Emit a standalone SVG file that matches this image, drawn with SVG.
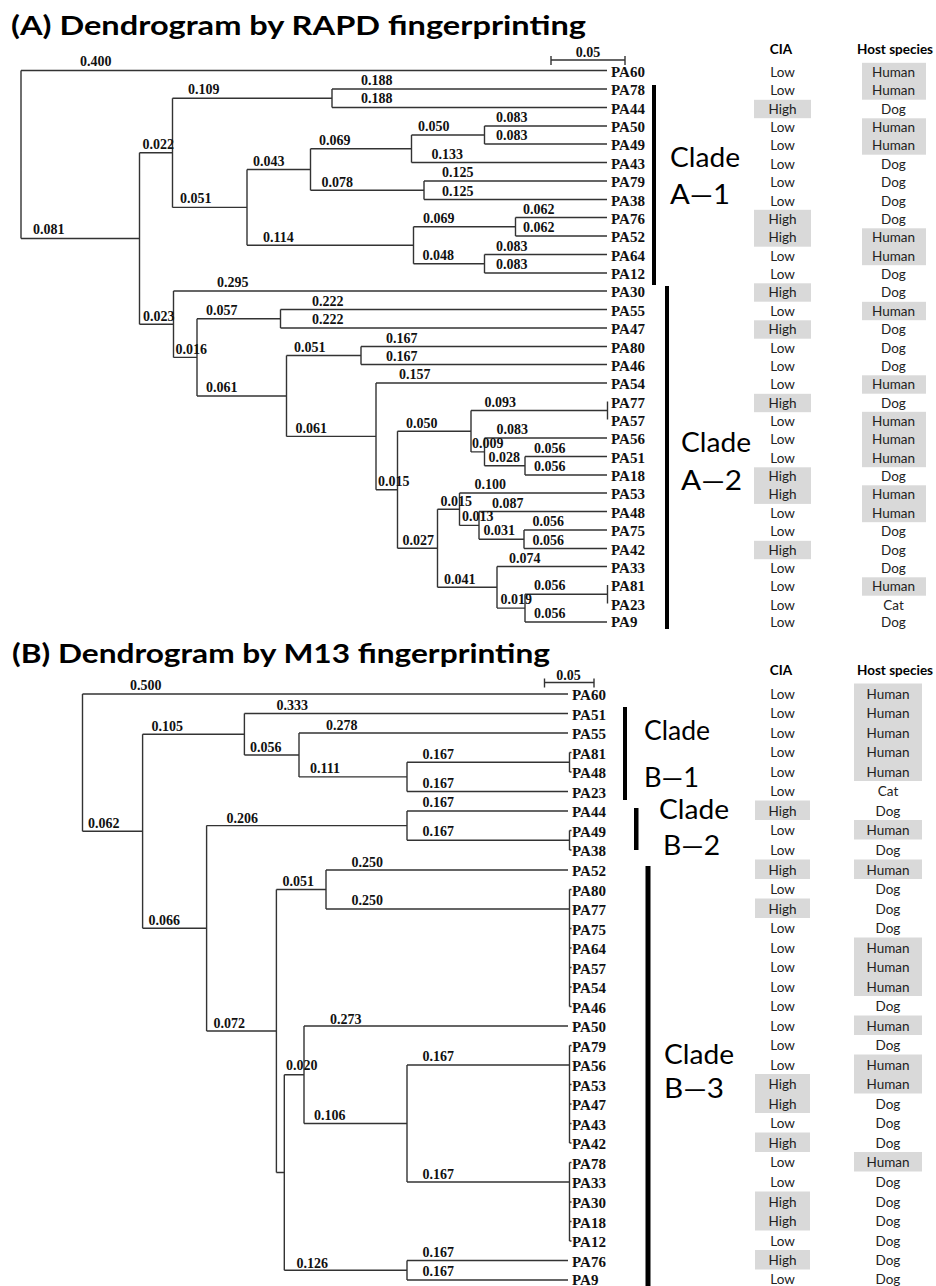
<svg xmlns="http://www.w3.org/2000/svg" width="936" height="1286" viewBox="0 0 936 1286">
<style>
.ln{fill:none;stroke:#333;stroke-width:1.4}
.bl{font-family:"Liberation Serif","Times New Roman",serif;font-weight:bold;font-size:14px;fill:#111}
.lf{font-family:"Liberation Serif","Times New Roman",serif;font-weight:bold;font-size:15px;fill:#111}
.ti{font-family:Lato,"Open Sans","Liberation Sans",sans-serif;font-weight:bold;font-size:27px;fill:#000}
.cl{font-family:Lato,"Open Sans","Liberation Sans",sans-serif;font-size:27px;fill:#000}
.hd{font-family:Lato,"Open Sans","Liberation Sans",sans-serif;font-weight:bold;font-size:13.5px;text-anchor:middle;fill:#000}
.tv{font-family:Lato,"Open Sans","Liberation Sans",sans-serif;font-size:13.5px;text-anchor:middle;fill:#222}
.hl{fill:#d9d9d9}
.bar{fill:#000}
</style>
<rect width="936" height="1286" fill="#fff"/>

<!-- ===== PART A ===== -->
<text class="ti" x="11" y="35" textLength="575" lengthAdjust="spacingAndGlyphs">(A) Dendrogram by RAPD fingerprinting</text>

<g id="A-scale">
<path class="ln" d="M551,60 H625 M551,56 V65 M625,56 V65"/>
<text class="bl" x="588" y="57" text-anchor="middle">0.05</text>
</g>

<g id="A-connectors">
<path class="ln" d="
M21,70.5 V238.5 M21,70.5 H607 M21,238.5 H139.5
M139.5,152.8 V324.2 M139.5,152.8 H172.5 M139.5,324.2 H173.5
M172.5,98.25 V207.4 M172.5,98.25 H332 M172.5,207.4 H247
M332,89 V107.5 M332,89 H607 M332,107.5 H607
M247,169.5 V245.25 M247,169.5 H310.5 M247,245.25 H413.5
M310.5,148.75 V190.25 M310.5,148.75 H411.5 M310.5,190.25 H424
M411.5,135 V162.5 M411.5,135 H484.5 M411.5,162.5 H607
M484.5,126 V144 M484.5,126 H607 M484.5,144 H607
M424,181 V199.5 M424,181 H607 M424,199.5 H607
M413.5,226.75 V263.75 M413.5,226.75 H515.5 M413.5,263.75 H484.5
M515.5,217.5 V236 M515.5,217.5 H607 M515.5,236 H607
M484.5,254.5 V273 M484.5,254.5 H607 M484.5,273 H607
M173.5,291 V357.4 M173.5,291 H607 M173.5,357.4 H197
M197,318.75 V396 M197,318.75 H280.5 M197,396 H286.5
M280.5,309.5 V328 M280.5,309.5 H607 M280.5,328 H607
M286.5,355.5 V436.4 M286.5,355.5 H361 M286.5,436.4 H376
M361,346.5 V364.5 M361,346.5 H607 M361,364.5 H607
M376,383 V489.7 M376,383 H607 M376,489.7 H397.5
M397.5,431.2 V548.25 M397.5,431.2 H471 M397.5,548.25 H437.5
M471,410.5 V451.9 M471,410.5 H607.5 M471,451.9 H484.5
M607.5,401.5 V419.5
M484.5,438 V465.75 M484.5,438 H607 M484.5,465.75 H525
M525,456.5 V475 M525,456.5 H607 M525,475 H607
M437.5,509.2 V587.3 M437.5,509.2 H459.5 M437.5,587.3 H497
M459.5,493 V525.4 M459.5,493 H607 M459.5,525.4 H479
M479,511.5 V539.25 M479,511.5 H607 M479,539.25 H524
M524,530 V548.5 M524,530 H607 M524,548.5 H607
M497,566.5 V608.1 M497,566.5 H607 M497,608.1 H525
M525,594.25 V622 M525,594.25 H607.5 M525,622 H607
M607.5,585 V603.5"/>
</g>

<g id="A-branch-labels">
<text class="bl" x="80" y="66">0.400</text>
<text class="bl" x="33" y="234">0.081</text>
<text class="bl" x="142.5" y="149">0.022</text>
<text class="bl" x="188" y="94">0.109</text>
<text class="bl" x="361" y="85">0.188</text>
<text class="bl" x="361" y="103">0.188</text>
<text class="bl" x="180" y="203">0.051</text>
<text class="bl" x="253" y="165.5">0.043</text>
<text class="bl" x="319" y="145">0.069</text>
<text class="bl" x="418" y="131">0.050</text>
<text class="bl" x="496" y="122">0.083</text>
<text class="bl" x="496" y="140">0.083</text>
<text class="bl" x="431.5" y="158.5">0.133</text>
<text class="bl" x="321.5" y="186.5">0.078</text>
<text class="bl" x="442" y="177">0.125</text>
<text class="bl" x="442" y="195.5">0.125</text>
<text class="bl" x="263" y="241.5">0.114</text>
<text class="bl" x="423" y="223">0.069</text>
<text class="bl" x="523" y="213.5">0.062</text>
<text class="bl" x="523" y="232">0.062</text>
<text class="bl" x="422.5" y="260">0.048</text>
<text class="bl" x="496" y="250.5">0.083</text>
<text class="bl" x="496" y="269">0.083</text>
<text class="bl" x="143" y="320.5">0.023</text>
<text class="bl" x="217" y="287">0.295</text>
<text class="bl" x="175.5" y="354">0.016</text>
<text class="bl" x="206" y="315">0.057</text>
<text class="bl" x="312" y="305.5">0.222</text>
<text class="bl" x="312" y="324">0.222</text>
<text class="bl" x="206" y="392">0.061</text>
<text class="bl" x="294" y="351.5">0.051</text>
<text class="bl" x="386" y="342.5">0.167</text>
<text class="bl" x="386" y="360.5">0.167</text>
<text class="bl" x="295.5" y="432.5">0.061</text>
<text class="bl" x="399" y="379">0.157</text>
<text class="bl" x="378" y="486">0.015</text>
<text class="bl" x="406" y="427.5">0.050</text>
<text class="bl" x="484.5" y="406.5">0.093</text>
<text class="bl" x="472" y="448">0.009</text>
<text class="bl" x="496.5" y="434">0.083</text>
<text class="bl" x="488.5" y="462">0.028</text>
<text class="bl" x="534" y="452.5">0.056</text>
<text class="bl" x="534" y="471">0.056</text>
<text class="bl" x="402.5" y="544.5">0.027</text>
<text class="bl" x="440.5" y="505.5">0.015</text>
<text class="bl" x="474.5" y="489">0.100</text>
<text class="bl" x="462" y="521">0.013</text>
<text class="bl" x="492" y="507.5">0.087</text>
<text class="bl" x="483.5" y="535">0.031</text>
<text class="bl" x="532.5" y="526">0.056</text>
<text class="bl" x="532.5" y="544.5">0.056</text>
<text class="bl" x="444" y="583.5">0.041</text>
<text class="bl" x="509" y="562.5">0.074</text>
<text class="bl" x="500.5" y="604">0.019</text>
<text class="bl" x="534" y="590">0.056</text>
<text class="bl" x="534" y="618">0.056</text>
</g>

<g id="A-clades">
<rect class="bar" x="652" y="85" width="4" height="200"/>
<rect class="bar" x="665" y="286" width="4" height="343"/>
<text class="cl" x="670" y="166.5" textLength="70" lengthAdjust="spacingAndGlyphs">Clade</text>
<text class="cl" x="670" y="203.5" textLength="60" lengthAdjust="spacingAndGlyphs">A—1</text>
<text class="cl" x="681" y="451.5" textLength="70" lengthAdjust="spacingAndGlyphs">Clade</text>
<text class="cl" x="681" y="490" textLength="61" lengthAdjust="spacingAndGlyphs">A—2</text>
</g>

<g id="A-table-shading">
<rect class="hl" x="754" y="99.8" width="57" height="18.4"/>
<rect class="hl" x="754" y="209.8" width="57" height="36.9"/>
<rect class="hl" x="754" y="283.3" width="57" height="18.4"/>
<rect class="hl" x="754" y="320.3" width="57" height="18.4"/>
<rect class="hl" x="754" y="393.8" width="57" height="18.4"/>
<rect class="hl" x="754" y="467.3" width="57" height="36.6"/>
<rect class="hl" x="754" y="540.8" width="57" height="18.4"/>
<rect class="hl" x="862" y="62.8" width="64" height="36.9"/>
<rect class="hl" x="862" y="118.3" width="64" height="36.4"/>
<rect class="hl" x="862" y="228.3" width="64" height="36.9"/>
<rect class="hl" x="862" y="301.8" width="64" height="18.4"/>
<rect class="hl" x="862" y="375.3" width="64" height="18.4"/>
<rect class="hl" x="862" y="411.8" width="64" height="55.4"/>
<rect class="hl" x="862" y="485.3" width="64" height="36.9"/>
<rect class="hl" x="862" y="577.3" width="64" height="18.4"/>
</g>
<g id="A-table-header">
<text class="hd" x="781" y="54">CIA</text>
<text class="hd" x="895" y="54">Host species</text>
</g>

<g id="A-PA60"><text class="lf" x="611" y="76.5">PA60</text><text class="tv" x="782.5" y="76.5">Low</text><text class="tv" x="893.5" y="76.5">Human</text></g>
<g id="A-PA78"><text class="lf" x="611" y="95">PA78</text><text class="tv" x="782.5" y="95">Low</text><text class="tv" x="893.5" y="95">Human</text></g>
<g id="A-PA44"><text class="lf" x="611" y="113.5">PA44</text><text class="tv" x="782.5" y="113.5">High</text><text class="tv" x="893.5" y="113.5">Dog</text></g>
<g id="A-PA50"><text class="lf" x="611" y="132">PA50</text><text class="tv" x="782.5" y="132">Low</text><text class="tv" x="893.5" y="132">Human</text></g>
<g id="A-PA49"><text class="lf" x="611" y="150">PA49</text><text class="tv" x="782.5" y="150">Low</text><text class="tv" x="893.5" y="150">Human</text></g>
<g id="A-PA43"><text class="lf" x="611" y="168.5">PA43</text><text class="tv" x="782.5" y="168.5">Low</text><text class="tv" x="893.5" y="168.5">Dog</text></g>
<g id="A-PA79"><text class="lf" x="611" y="187">PA79</text><text class="tv" x="782.5" y="187">Low</text><text class="tv" x="893.5" y="187">Dog</text></g>
<g id="A-PA38"><text class="lf" x="611" y="205.5">PA38</text><text class="tv" x="782.5" y="205.5">Low</text><text class="tv" x="893.5" y="205.5">Dog</text></g>
<g id="A-PA76"><text class="lf" x="611" y="223.5">PA76</text><text class="tv" x="782.5" y="223.5">High</text><text class="tv" x="893.5" y="223.5">Dog</text></g>
<g id="A-PA52"><text class="lf" x="611" y="242">PA52</text><text class="tv" x="782.5" y="242">High</text><text class="tv" x="893.5" y="242">Human</text></g>
<g id="A-PA64"><text class="lf" x="611" y="260.5">PA64</text><text class="tv" x="782.5" y="260.5">Low</text><text class="tv" x="893.5" y="260.5">Human</text></g>
<g id="A-PA12"><text class="lf" x="611" y="279">PA12</text><text class="tv" x="782.5" y="279">Low</text><text class="tv" x="893.5" y="279">Dog</text></g>
<g id="A-PA30"><text class="lf" x="611" y="297">PA30</text><text class="tv" x="782.5" y="297">High</text><text class="tv" x="893.5" y="297">Dog</text></g>
<g id="A-PA55"><text class="lf" x="611" y="315.5">PA55</text><text class="tv" x="782.5" y="315.5">Low</text><text class="tv" x="893.5" y="315.5">Human</text></g>
<g id="A-PA47"><text class="lf" x="611" y="334">PA47</text><text class="tv" x="782.5" y="334">High</text><text class="tv" x="893.5" y="334">Dog</text></g>
<g id="A-PA80"><text class="lf" x="611" y="352.5">PA80</text><text class="tv" x="782.5" y="352.5">Low</text><text class="tv" x="893.5" y="352.5">Dog</text></g>
<g id="A-PA46"><text class="lf" x="611" y="370.5">PA46</text><text class="tv" x="782.5" y="370.5">Low</text><text class="tv" x="893.5" y="370.5">Dog</text></g>
<g id="A-PA54"><text class="lf" x="611" y="389">PA54</text><text class="tv" x="782.5" y="389">Low</text><text class="tv" x="893.5" y="389">Human</text></g>
<g id="A-PA77"><text class="lf" x="611" y="407.5">PA77</text><text class="tv" x="782.5" y="407.5">High</text><text class="tv" x="893.5" y="407.5">Dog</text></g>
<g id="A-PA57"><text class="lf" x="611" y="425.5">PA57</text><text class="tv" x="782.5" y="425.5">Low</text><text class="tv" x="893.5" y="425.5">Human</text></g>
<g id="A-PA56"><text class="lf" x="611" y="444">PA56</text><text class="tv" x="782.5" y="444">Low</text><text class="tv" x="893.5" y="444">Human</text></g>
<g id="A-PA51"><text class="lf" x="611" y="462.5">PA51</text><text class="tv" x="782.5" y="462.5">Low</text><text class="tv" x="893.5" y="462.5">Human</text></g>
<g id="A-PA18"><text class="lf" x="611" y="481">PA18</text><text class="tv" x="782.5" y="481">High</text><text class="tv" x="893.5" y="481">Dog</text></g>
<g id="A-PA53"><text class="lf" x="611" y="499">PA53</text><text class="tv" x="782.5" y="499">High</text><text class="tv" x="893.5" y="499">Human</text></g>
<g id="A-PA48"><text class="lf" x="611" y="517.5">PA48</text><text class="tv" x="782.5" y="517.5">Low</text><text class="tv" x="893.5" y="517.5">Human</text></g>
<g id="A-PA75"><text class="lf" x="611" y="536">PA75</text><text class="tv" x="782.5" y="536">Low</text><text class="tv" x="893.5" y="536">Dog</text></g>
<g id="A-PA42"><text class="lf" x="611" y="554.5">PA42</text><text class="tv" x="782.5" y="554.5">High</text><text class="tv" x="893.5" y="554.5">Dog</text></g>
<g id="A-PA33"><text class="lf" x="611" y="572.5">PA33</text><text class="tv" x="782.5" y="572.5">Low</text><text class="tv" x="893.5" y="572.5">Dog</text></g>
<g id="A-PA81"><text class="lf" x="611" y="591">PA81</text><text class="tv" x="782.5" y="591">Low</text><text class="tv" x="893.5" y="591">Human</text></g>
<g id="A-PA23"><text class="lf" x="611" y="609.5">PA23</text><text class="tv" x="782.5" y="609.5">Low</text><text class="tv" x="893.5" y="609.5">Cat</text></g>
<g id="A-PA9"><text class="lf" x="611" y="627">PA9</text><text class="tv" x="782.5" y="627">Low</text><text class="tv" x="893.5" y="627">Dog</text></g>

<!-- ===== PART B ===== -->
<text class="ti" x="12" y="663" textLength="538" lengthAdjust="spacingAndGlyphs">(B) Dendrogram by M13 fingerprinting</text>

<g id="B-scale">
<path class="ln" d="M544.5,682.5 H594 M544.5,678.5 V687.5 M594,678.5 V687.5"/>
<text class="bl" x="568.5" y="679.5" text-anchor="middle">0.05</text>
</g>

<g id="B-connectors">
<path class="ln" d="
M82.5,694 V831.25 M82.5,694 H568 M82.5,831.25 H142.6
M142.6,734.2 V928.3 M142.6,734.2 H244.4 M142.6,928.3 H206.6
M244.4,713.5 V754.95 M244.4,713.5 H568 M244.4,754.95 H299
M299,733 V776.9 M299,733 H568 M299,776.9 H407
M407,762.25 V791.5 M407,762.25 H569.5 M407,791.5 H568
M569.5,752.5 V772 M569.5,752.5 h2 M569.5,772 h2
M206.6,825.6 V1031 M206.6,825.6 H407 M206.6,1031 H276.4
M407,811 V840.25 M407,811 H568 M407,840.25 H569.5
M569.5,830.5 V850 M569.5,830.5 h2 M569.5,850 h2
M276.4,889.5 V1172.5 M276.4,889.5 H326 M276.4,1172.5 H284.3
M326,870 V909 M326,870 H568 M326,909 H569.5
M569.5,889.5 V1006.5 M569.5,889.5 h2 M569.5,928.5 h2 M569.5,948 h2 M569.5,967.5 h2 M569.5,987 h2 M569.5,1006.5 h2
M284.3,1074.75 V1270.25 M284.3,1074.75 H304 M284.3,1270.25 H407
M304,1026 V1123.5 M304,1026 H568 M304,1123.5 H407
M407,1065 V1182 M407,1065 H569.5 M407,1182 H569.5
M569.5,1045.5 V1143 M569.5,1045.5 h2 M569.5,1084.5 h2 M569.5,1104 h2 M569.5,1123.5 h2 M569.5,1143 h2
M569.5,1162.5 V1241 M569.5,1162.5 h2 M569.5,1202 h2 M569.5,1221.5 h2 M569.5,1241 h2
M407,1260.5 V1280 M407,1260.5 H568 M407,1280 H568"/>
</g>

<g id="B-branch-labels">
<text class="bl" x="130" y="690">0.500</text>
<text class="bl" x="88" y="827.5">0.062</text>
<text class="bl" x="151.5" y="730.5">0.105</text>
<text class="bl" x="276.5" y="710">0.333</text>
<text class="bl" x="250" y="751.5">0.056</text>
<text class="bl" x="326" y="729.5">0.278</text>
<text class="bl" x="310" y="773">0.111</text>
<text class="bl" x="422.5" y="758.5">0.167</text>
<text class="bl" x="422.5" y="787.5">0.167</text>
<text class="bl" x="148.5" y="925">0.066</text>
<text class="bl" x="226.5" y="822.5">0.206</text>
<text class="bl" x="422.5" y="806.5">0.167</text>
<text class="bl" x="422.5" y="836">0.167</text>
<text class="bl" x="213.5" y="1027.5">0.072</text>
<text class="bl" x="282.5" y="886">0.051</text>
<text class="bl" x="351.5" y="866.5">0.250</text>
<text class="bl" x="351.5" y="905">0.250</text>
<text class="bl" x="286" y="1070">0.020</text>
<text class="bl" x="330" y="1023.5">0.273</text>
<text class="bl" x="314" y="1119.5">0.106</text>
<text class="bl" x="422.5" y="1061">0.167</text>
<text class="bl" x="422.5" y="1178.5">0.167</text>
<text class="bl" x="296.5" y="1267.5">0.126</text>
<text class="bl" x="422.5" y="1257">0.167</text>
<text class="bl" x="422.5" y="1276">0.167</text>
</g>

<g id="B-clades">
<rect class="bar" x="623" y="707" width="4" height="93"/>
<rect class="bar" x="634" y="808" width="4.5" height="42"/>
<rect class="bar" x="645.5" y="866" width="5" height="420"/>
<text class="cl" x="644" y="740" textLength="66" lengthAdjust="spacingAndGlyphs">Clade</text>
<text class="cl" x="644" y="786.5" textLength="55" lengthAdjust="spacingAndGlyphs">B—1</text>
<text class="cl" x="659" y="818.5" textLength="70" lengthAdjust="spacingAndGlyphs">Clade</text>
<text class="cl" x="663" y="855" textLength="57" lengthAdjust="spacingAndGlyphs">B—2</text>
<text class="cl" x="664" y="1064" textLength="70" lengthAdjust="spacingAndGlyphs">Clade</text>
<text class="cl" x="664" y="1098" textLength="60" lengthAdjust="spacingAndGlyphs">B—3</text>
</g>

<g id="B-table-shading">
<rect class="hl" x="755" y="800.5" width="55" height="19.5"/>
<rect class="hl" x="755" y="859.5" width="55" height="19.5"/>
<rect class="hl" x="755" y="898.5" width="55" height="19.5"/>
<rect class="hl" x="755" y="1074" width="55" height="39"/>
<rect class="hl" x="755" y="1132.5" width="55" height="19.5"/>
<rect class="hl" x="755" y="1191.5" width="55" height="39"/>
<rect class="hl" x="755" y="1250" width="55" height="19.5"/>
<rect class="hl" x="854" y="683.5" width="68" height="97.5"/>
<rect class="hl" x="854" y="820" width="68" height="19.5"/>
<rect class="hl" x="854" y="859.5" width="68" height="19.5"/>
<rect class="hl" x="854" y="937.5" width="68" height="58.5"/>
<rect class="hl" x="854" y="1015.5" width="68" height="19.5"/>
<rect class="hl" x="854" y="1054.5" width="68" height="39"/>
<rect class="hl" x="854" y="1152" width="68" height="19.5"/>
</g>
<g id="B-table-header">
<text class="hd" x="781" y="675">CIA</text>
<text class="hd" x="895" y="675">Host species</text>
</g>

<g id="B-PA60"><text class="lf" x="572" y="700">PA60</text><text class="tv" x="782.5" y="698.5">Low</text><text class="tv" x="888" y="698.5">Human</text></g>
<g id="B-PA51"><text class="lf" x="572" y="719.5">PA51</text><text class="tv" x="782.5" y="718">Low</text><text class="tv" x="888" y="718">Human</text></g>
<g id="B-PA55"><text class="lf" x="572" y="739">PA55</text><text class="tv" x="782.5" y="737.5">Low</text><text class="tv" x="888" y="737.5">Human</text></g>
<g id="B-PA81"><text class="lf" x="572" y="758.5">PA81</text><text class="tv" x="782.5" y="757">Low</text><text class="tv" x="888" y="757">Human</text></g>
<g id="B-PA48"><text class="lf" x="572" y="778">PA48</text><text class="tv" x="782.5" y="776.5">Low</text><text class="tv" x="888" y="776.5">Human</text></g>
<g id="B-PA23"><text class="lf" x="572" y="797.5">PA23</text><text class="tv" x="782.5" y="796">Low</text><text class="tv" x="888" y="796">Cat</text></g>
<g id="B-PA44"><text class="lf" x="572" y="817">PA44</text><text class="tv" x="782.5" y="815.5">High</text><text class="tv" x="888" y="815.5">Dog</text></g>
<g id="B-PA49"><text class="lf" x="572" y="836.5">PA49</text><text class="tv" x="782.5" y="835">Low</text><text class="tv" x="888" y="835">Human</text></g>
<g id="B-PA38"><text class="lf" x="572" y="856">PA38</text><text class="tv" x="782.5" y="854.5">Low</text><text class="tv" x="888" y="854.5">Dog</text></g>
<g id="B-PA52"><text class="lf" x="572" y="876">PA52</text><text class="tv" x="782.5" y="874.5">High</text><text class="tv" x="888" y="874.5">Human</text></g>
<g id="B-PA80"><text class="lf" x="572" y="895.5">PA80</text><text class="tv" x="782.5" y="894">Low</text><text class="tv" x="888" y="894">Dog</text></g>
<g id="B-PA77"><text class="lf" x="572" y="915">PA77</text><text class="tv" x="782.5" y="913.5">High</text><text class="tv" x="888" y="913.5">Dog</text></g>
<g id="B-PA75"><text class="lf" x="572" y="934.5">PA75</text><text class="tv" x="782.5" y="933">Low</text><text class="tv" x="888" y="933">Dog</text></g>
<g id="B-PA64"><text class="lf" x="572" y="954">PA64</text><text class="tv" x="782.5" y="952.5">Low</text><text class="tv" x="888" y="952.5">Human</text></g>
<g id="B-PA57"><text class="lf" x="572" y="973.5">PA57</text><text class="tv" x="782.5" y="972">Low</text><text class="tv" x="888" y="972">Human</text></g>
<g id="B-PA54"><text class="lf" x="572" y="993">PA54</text><text class="tv" x="782.5" y="991.5">Low</text><text class="tv" x="888" y="991.5">Human</text></g>
<g id="B-PA46"><text class="lf" x="572" y="1012.5">PA46</text><text class="tv" x="782.5" y="1011">Low</text><text class="tv" x="888" y="1011">Dog</text></g>
<g id="B-PA50"><text class="lf" x="572" y="1032">PA50</text><text class="tv" x="782.5" y="1030.5">Low</text><text class="tv" x="888" y="1030.5">Human</text></g>
<g id="B-PA79"><text class="lf" x="572" y="1051.5">PA79</text><text class="tv" x="782.5" y="1050">Low</text><text class="tv" x="888" y="1050">Dog</text></g>
<g id="B-PA56"><text class="lf" x="572" y="1071">PA56</text><text class="tv" x="782.5" y="1069.5">Low</text><text class="tv" x="888" y="1069.5">Human</text></g>
<g id="B-PA53"><text class="lf" x="572" y="1090.5">PA53</text><text class="tv" x="782.5" y="1089">High</text><text class="tv" x="888" y="1089">Human</text></g>
<g id="B-PA47"><text class="lf" x="572" y="1110">PA47</text><text class="tv" x="782.5" y="1108.5">High</text><text class="tv" x="888" y="1108.5">Dog</text></g>
<g id="B-PA43"><text class="lf" x="572" y="1129.5">PA43</text><text class="tv" x="782.5" y="1128">Low</text><text class="tv" x="888" y="1128">Dog</text></g>
<g id="B-PA42"><text class="lf" x="572" y="1149">PA42</text><text class="tv" x="782.5" y="1147.5">High</text><text class="tv" x="888" y="1147.5">Dog</text></g>
<g id="B-PA78"><text class="lf" x="572" y="1168.5">PA78</text><text class="tv" x="782.5" y="1167">Low</text><text class="tv" x="888" y="1167">Human</text></g>
<g id="B-PA33"><text class="lf" x="572" y="1188">PA33</text><text class="tv" x="782.5" y="1186.5">Low</text><text class="tv" x="888" y="1186.5">Dog</text></g>
<g id="B-PA30"><text class="lf" x="572" y="1208">PA30</text><text class="tv" x="782.5" y="1206.5">High</text><text class="tv" x="888" y="1206.5">Dog</text></g>
<g id="B-PA18"><text class="lf" x="572" y="1227.5">PA18</text><text class="tv" x="782.5" y="1226">High</text><text class="tv" x="888" y="1226">Dog</text></g>
<g id="B-PA12"><text class="lf" x="572" y="1247">PA12</text><text class="tv" x="782.5" y="1245.5">Low</text><text class="tv" x="888" y="1245.5">Dog</text></g>
<g id="B-PA76"><text class="lf" x="572" y="1266.5">PA76</text><text class="tv" x="782.5" y="1265">High</text><text class="tv" x="888" y="1265">Dog</text></g>
<g id="B-PA9"><text class="lf" x="572" y="1285">PA9</text><text class="tv" x="782.5" y="1283.5">Low</text><text class="tv" x="888" y="1283.5">Dog</text></g>
</svg>
